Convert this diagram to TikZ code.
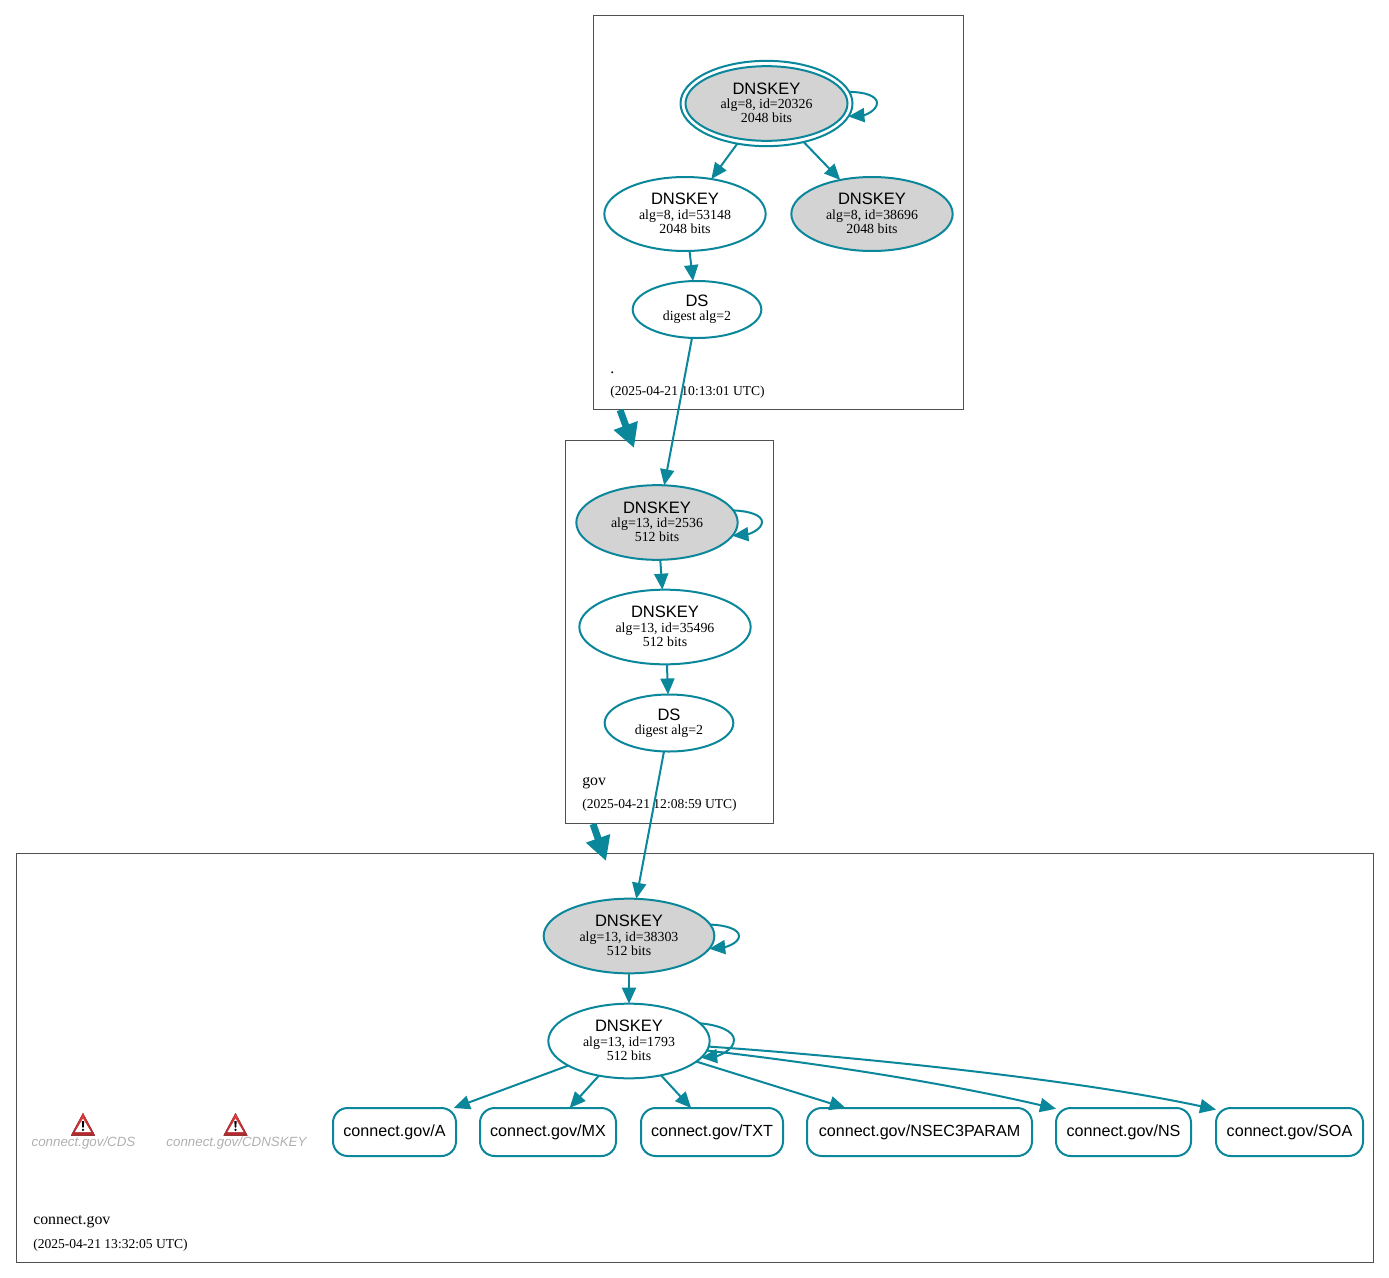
\documentclass[tikz,border=0pt]{standalone}
\usepackage{fontspec}
\setmainfont{Liberation Serif}
\newfontfamily\hv{Liberation Sans}
\usetikzlibrary{shapes.geometric,arrows.meta}
\definecolor{teal1}{HTML}{0A879A}
\definecolor{box1}{HTML}{505050}
\definecolor{gray1}{HTML}{D3D3D3}
\definecolor{mut1}{HTML}{B0B0B0}
\definecolor{warntop}{HTML}{E23A3A}
\definecolor{warnbot}{HTML}{B0282C}
\newcommand{\kt}[2]{{\hv\fontsize{12.4pt}{10.2pt}\selectfont DNSKEY}\\[1pt]#1\\#2\rule[-1.5pt]{0pt}{0pt}}
\newcommand{\dt}{{\hv\fontsize{12.4pt}{10.2pt}\selectfont DS}\\digest alg=2}
\newcommand{\warnicon}[2]{%
  \fill[top color=warntop,bottom color=warnbot,line join=round]
    (#1,#2-12) -- (#1+12,#2+10.5) -- (#1-12,#2+10.5) -- cycle;
  \fill[white] (#1,#2-6.5) -- (#1+8,#2+7) -- (#1-8,#2+7) -- cycle;
  \fill[black] (#1-1.2,#2-4) -- (#1+1.2,#2-4) -- (#1+0.7,#2+2.5) -- (#1-0.7,#2+2.5) -- cycle;
  \fill[black] (#1,#2+4.8) circle[radius=1.3];}
\tikzset{
  x=0.75pt,y=-0.75pt,
  clusterbox/.style={draw=box1,line width=0.75pt,rectangle,inner sep=0pt,outer sep=0pt},
  keynode/.style={ellipse,draw=teal1,line width=1.5pt,inner sep=0pt,outer sep=0pt,align=center,
    font=\fontsize{10.4pt}{10.2pt}\selectfont,text=black},
  filledkey/.style={keynode,fill=gray1},
  rrnode/.style={draw=teal1,line width=1.5pt,rectangle,rounded corners=11pt,inner sep=0pt,outer sep=0pt,
    minimum height=36pt,font=\hv\fontsize{12.1pt}{14pt}\selectfont,fill=white},
  conn/.style={draw=teal1,line width=1.5pt,-{Triangle[length=12pt,width=10.5pt]}},
  zonearrow/.style={draw=teal1,line width=5.2pt,-{Triangle[length=18pt,width=18pt]}},
  zonename/.style={anchor=base west,inner sep=0pt,font=\fontsize{11.9pt}{14pt}\selectfont},
  zonedate/.style={anchor=base west,inner sep=0pt,font=\fontsize{10.17pt}{12pt}\selectfont},
  mutedname/.style={inner sep=0pt,text=mut1,font=\hv\itshape\fontsize{10pt}{12pt}\selectfont},
}
\begin{document}
\begin{tikzpicture}
\useasboundingbox (0,0) rectangle (1389,1278);
% clusters
\node[clusterbox,minimum width=277.5pt,minimum height=295.5pt] (zroot) at (778.75,212.5) {};
\node[clusterbox,minimum width=156pt,minimum height=287.25pt] (zgov) at (669.5,632) {};
\node[clusterbox,minimum width=1018.1pt,minimum height=306.4pt] (zconn) at (694.75,1057.75) {};
\node[zonename] (l1) at (610,373) {.};
\node[zonedate] (d1) at (610,395) {(2025-04-21 10:13:01 UTC)};
\node[zonename] (l2) at (582,785) {gov};
\node[zonedate] (d2) at (582,808) {(2025-04-21 12:08:59 UTC)};
\node[zonename] (l3) at (33,1224) {connect.gov};
\node[zonedate] (d3) at (33,1248) {(2025-04-21 13:32:05 UTC)};
% key nodes
\node[keynode,fill=white,minimum width=129pt,minimum height=64pt] (root) at (766.5,103.5) {};
\node[filledkey,minimum width=121.5pt,minimum height=56pt] (rootin) at (766.5,103.5) {\kt{alg=8, id=20326}{2048 bits}};
\node[keynode,minimum width=121pt,minimum height=55.5pt] (k53148) at (685,214) {\kt{alg=8, id=53148}{2048 bits}};
\node[filledkey,minimum width=121pt,minimum height=55.5pt] (k38696) at (872,214) {\kt{alg=8, id=38696}{2048 bits}};
\node[keynode,minimum width=96.5pt,minimum height=42.75pt] (ds1) at (697,309.5) {\dt};
\node[filledkey,minimum width=121pt,minimum height=56pt] (k2536) at (657,522.5) {\kt{alg=13, id=2536}{512 bits}};
\node[keynode,minimum width=128.5pt,minimum height=56pt] (k35496) at (665,627) {\kt{alg=13, id=35496}{512 bits}};
\node[keynode,minimum width=96.5pt,minimum height=42.75pt] (ds2) at (669,723) {\dt};
\node[filledkey,minimum width=128pt,minimum height=56pt] (k38303) at (629,936) {\kt{alg=13, id=38303}{512 bits}};
\node[keynode,minimum width=121pt,minimum height=56pt] (k1793) at (629,1041) {\kt{alg=13, id=1793}{512 bits}};
% record nodes
\node[rrnode,minimum width=92.25pt] (rA) at (394.5,1132) {connect.gov/A};
\node[rrnode,minimum width=102pt] (rMX) at (548,1132) {connect.gov/MX};
\node[rrnode,minimum width=106.5pt] (rTXT) at (712,1132) {connect.gov/TXT};
\node[rrnode,minimum width=168.75pt] (rN3) at (919.5,1132) {connect.gov/NSEC3PARAM};
\node[rrnode,minimum width=101.25pt] (rNS) at (1123.5,1132) {connect.gov/NS};
\node[rrnode,minimum width=110.25pt] (rSOA) at (1289.5,1132) {connect.gov/SOA};
% warnings
\warnicon{83}{1125}
\warnicon{235.5}{1125}
\node[mutedname] (wCDS) at (83.5,1143) {connect.gov/CDS};
\node[mutedname] (wCDK) at (236.5,1143) {connect.gov/CDNSKEY};
% zone arrows
\coordinate (e1s) at (620,410);
\coordinate (e1t) at (634,448);
\coordinate (e2s) at (593,824);
\coordinate (e2t) at (606,861);
\draw[zonearrow] (e1s) -- (e1t);
\draw[zonearrow] (e2s) -- (e2t);
% connectors
\draw[conn] (root.-126.6) -- (k53148.53.4);
\draw[conn] (root.-46) -- (k38696.133);
\draw[conn] (k53148.-83.8) -- (ds1.98);
\draw[conn] (ds1.-100) -- (k2536.79.4);
\draw[conn] (k2536.-85.4) -- (k35496.94.6);
\draw[conn] (k35496.-87) -- (ds2.92);
\draw[conn] (ds2.-100) -- (k38303.79.3);
\draw[conn] (k38303.-90) -- (k1793.90);
\draw[conn] (k1793.-158.5) -- (rA.22.5);
\draw[conn] (k1793.-131.5) -- (rMX.48.8);
\draw[conn] (k1793.-47.6) -- (rTXT.131);
\draw[conn] (k1793.-17.2) -- (rN3.162.4);
\draw[conn] (k1793.-7.8) .. controls (825,1064) and (950,1084) .. (rNS.161.5);
\draw[conn] (k1793.-4.3) .. controls (860,1057) and (1080,1080) .. (rSOA.163);
% self loops
\draw[conn] (root.8.3) .. controls (865,92) and (877,96) .. (877,103) .. controls (877,110) and (866,115) .. (root.-9.5);
\draw[conn] (k2536.9.3) .. controls (749,511) and (762,515) .. (762,522) .. controls (762,529) and (750,534) .. (k2536.-10);
\draw[conn] (k38303.8.5) .. controls (725,925) and (739,929) .. (739,936) .. controls (739,943) and (726,947) .. (k38303.-9);
\draw[conn] (k1793.14.2) .. controls (719,1025) and (734,1031) .. (734,1040) .. controls (734,1050) and (718,1056) .. (k1793.-13.5);
\end{tikzpicture}
\end{document}
